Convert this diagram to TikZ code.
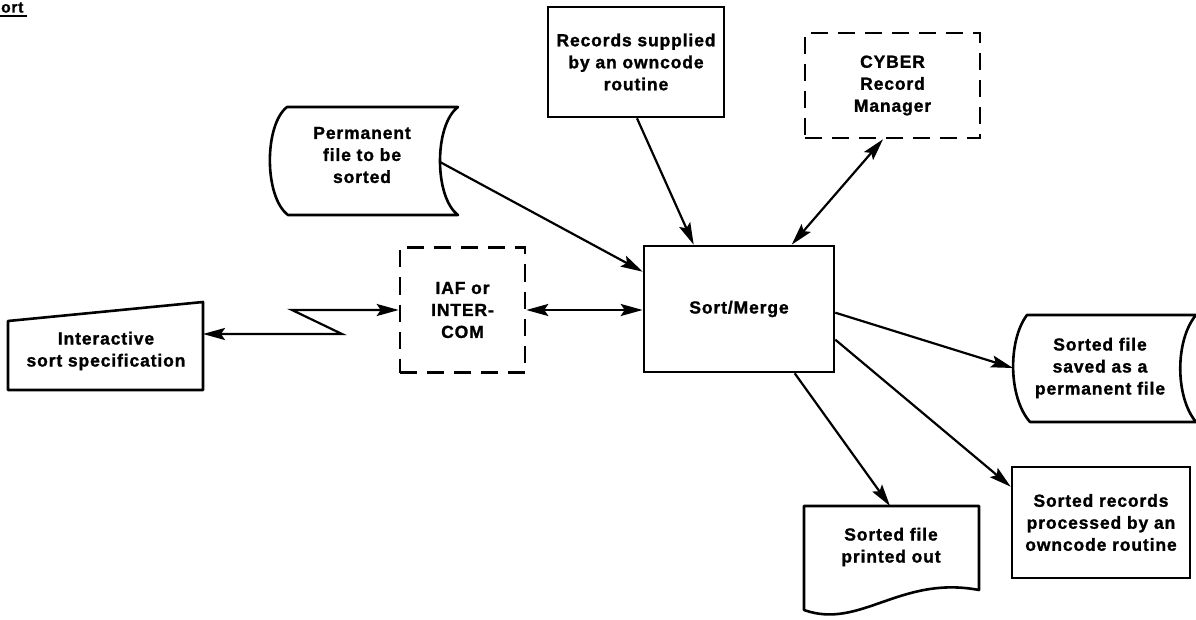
\documentclass[tikz,border=0pt]{standalone}
\usepackage{fontspec}
\newfontfamily\lblfont{Liberation Sans}[LetterSpace=5, BoldFeatures={FakeBold=1.3}]
\usetikzlibrary{arrows.meta,calc}
\begin{document}
\begin{tikzpicture}[x=1pt,y=-1pt,
  lbl/.style={font=\lblfont\bfseries\fontsize{17.5}{22}\selectfont, align=center, inner sep=0pt},
  ttl/.style={font=\lblfont\bfseries\fontsize{15.5}{18}\selectfont, inner sep=0pt},
  box/.style={draw, line width=2.6pt},
  dbox/.style={draw, line width=2.6pt, dash pattern=on 17pt off 10pt},
  shp/.style={draw, line width=2.6pt, line join=round},
  arr/.style={line width=2.2pt, -{Stealth[length=22pt,width=12pt,inset=4pt]}},
  darr/.style={line width=2.2pt, {Stealth[length=22pt,width=12pt,inset=4pt]}-{Stealth[length=22pt,width=12pt,inset=4pt]}}]
\useasboundingbox (0,0) rectangle (1196,620);

% title (its first letter is cut off in the reference)
\node[ttl, anchor=base west] (title) at (1,12.5) {ort};
\draw[line width=2pt] ($(title.base west)+(-1,3.5)$) -- ($(title.base east)+(3,3.5)$);

% rectangular boxes
\node[box, lbl, minimum width=176pt, minimum height=110pt] (rec) at (636,62)
  {Records supplied\\by an owncode\\routine};
\node[dbox, lbl, minimum width=175pt, minimum height=105pt] (cy) at (892.5,85.5)
  {CYBER\\Record\\Manager};
\node[dbox, lbl, minimum width=125pt, minimum height=125pt] (iaf) at (462.5,310)
  {IAF or\\INTER-\\COM};
\node[box, lbl, minimum width=190pt, minimum height=126pt] (sm) at (739,309)
  {Sort/Merge};
\node[box, lbl, minimum width=178pt, minimum height=111pt] (rt) at (1101,522.5)
  {Sorted records\\processed by an\\owncode routine};

% permanent file (stored data symbol)
\draw[shp] (287,107) -- (458,107) .. controls (434,125) and (434,197) .. (458,215)
  -- (288,215) .. controls (264,197) and (264,125) .. (287,107) -- cycle;
\node[lbl] (perm) at (362,155) {Permanent\\file to be\\sorted};

% sorted file saved (stored data symbol, cut at right edge)
\draw[shp] (1027,315) -- (1200,315) -- (1196,315) .. controls (1175,340) and (1175,397) .. (1196,422)
  -- (1030,422) .. controls (1008,397) and (1008,340) .. (1027,315) -- cycle;
\node[lbl] (saved) at (1100,368) {Sorted file\\saved as a\\permanent file};

% interactive (manual input)
\draw[shp] (8,321) -- (203,302) -- (203,390) -- (8,390) -- cycle;
\node[lbl] (inter) at (106,351) {Interactive\\sort specification};

% printout (document)
\draw[shp] (804,506) -- (979,506) -- (979,590) .. controls (900,575) and (860,630) .. (804,610) -- cycle;
\node[lbl] (prt) at (891,547) {Sorted file\\printed out};

% connector end points on the drawn outlines
\coordinate (permR) at (440,162);
\coordinate (savedL) at (1013,368);
\coordinate (interR) at (203,334);
\coordinate (prtT) at (890,506);
\coordinate (z1) at (342,334);
\coordinate (z2) at (292,310);

% connectors
\draw[arr] (permR) -- ($(sm.north west)+(0,27)$);
\draw[arr] ($(rec.south)+(1,0)$) -- ($(sm.north west)+(51,0)$);
\draw[darr] ($(cy.south)+(-9.5,0)$) -- ($(sm.north west)+(149,0)$);
\draw[darr] (iaf.east) -- (sm.west |- iaf.east);
\draw[darr] (interR) -- (z1) -- (z2) -- (iaf.west);
\draw[arr] ($(sm.north east)+(0,68)$) -- (savedL);
\draw[arr] ($(sm.north east)+(0,95)$) -- ($(rt.north west)+(0,21)$);
\draw[arr] ($(sm.south west)+(152,0)$) -- (prtT);
\end{tikzpicture}
\end{document}
